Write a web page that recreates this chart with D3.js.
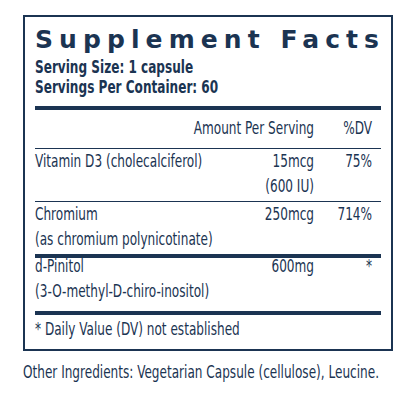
<!DOCTYPE html>
<html><head><meta charset="utf-8">
<script src="https://cdn.jsdelivr.net/npm/d3@7"></script>
<style>body{margin:0;background:#fff}</style>
</head><body>
<script>
// label content
const nutrients = ['Vitamin D3 (cholecalciferol)', 'Chromium', 'd-Pinitol'];
const subNames = ['', '(as chromium polynicotinate)', '(3-O-methyl-D-chiro-inositol)'];
const amounts = ['15mcg', '250mcg', '600mg'];
const subAmounts = ['(600 IU)', '', ''];
const dvs = ['75%', '714%', '*'];

const ink = '#1b3452';
const font = "'DejaVu Sans Condensed', 'Liberation Sans', sans-serif";

let svg = d3.select('body').append('svg')
    .attr('width', 416).attr('height', 416)
    .style('font-family', font).attr('fill', ink);

svg.append('rect').attr('x', 24).attr('y', 16).attr('width', 368).attr('height', 334)
    .attr('fill', 'none').attr('stroke', ink).attr('stroke-width', 2);

svg.append('text').attr('x', 35).attr('y', 48).attr('class', 'title')
    .attr('font-size', 25).attr('font-weight', 'bold')
    .attr('textLength', 344).attr('lengthAdjust', 'spacing')
    .style('font-family', "'DejaVu Sans', sans-serif")
    .text('Supplement Facts');

svg.append('text').attr('x', 35).attr('y', 73).attr('font-weight', 'bold')
    .text('Serving Size: 1 capsule');
svg.append('text').attr('x', 35).attr('y', 93).attr('font-weight', 'bold')
    .text('Servings Per Container: 60');

function rule(y, h) {
    svg.append('rect').attr('x', 35).attr('y', y).attr('width', 346).attr('height', h);
}
rule(106, 4);

svg.append('text').attr('x', 314).attr('y', 134).attr('text-anchor', 'end')
    .text('Amount Per Serving');
svg.append('text').attr('x', 372).attr('y', 134).attr('text-anchor', 'end')
    .text('%DV');

const rowY = [167, 220, 272];
[[148, 1], [201, 1], [254, 4], [311, 4]].forEach(r => rule(r[0], r[1]));

nutrients.forEach((n, i) => {
    svg.append('text').attr('x', 35).attr('y', rowY[i]).text(n);
    svg.append('text').attr('x', 35).attr('y', rowY[i] + 25).text(subNames[i]);
    svg.append('text').attr('x', 314).attr('y', rowY[i]).attr('text-anchor', 'end').text(amounts[i]);
    svg.append('text').attr('x', 314).attr('y', rowY[i] + 25).attr('text-anchor', 'end').text(subAmounts[i]);
    svg.append('text').attr('x', 372).attr('y', rowY[i]).attr('text-anchor', 'end').text(dvs[i]);
});

svg.append('text').attr('x', 35).attr('y', 335)
    .text('* Daily Value (DV) not established');
svg.append('text').attr('x', 23).attr('y', 378)
    .text('Other Ingredients: Vegetarian Capsule (cellulose), Leucine.');

// tall, narrow body text like the label's condensed face
svg.selectAll('text:not(.title)').attr('font-size', 17).each(function () {
    let len = this.getComputedTextLength();
    if (len > 0) d3.select(this).attr('textLength', len * 0.79).attr('lengthAdjust', 'spacingAndGlyphs');
});
</script>
</body></html>
